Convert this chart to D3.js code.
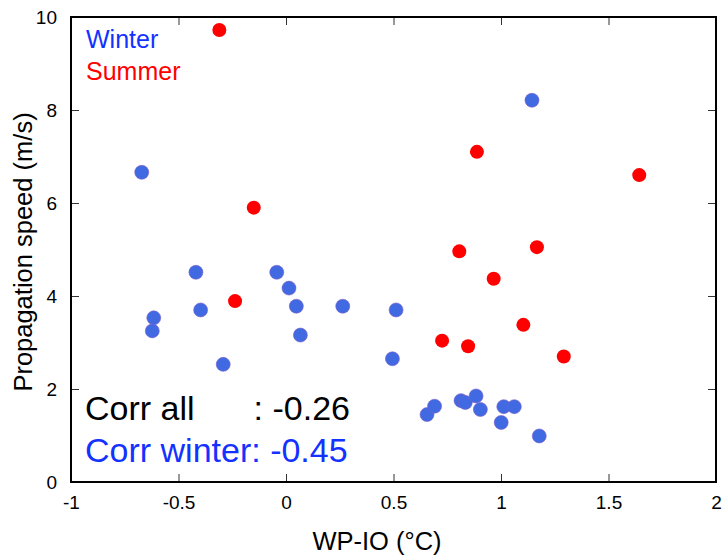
<!DOCTYPE html>
<html>
<head>
<meta charset="utf-8">
<script src="https://cdn.jsdelivr.net/npm/d3@7"></script>
<style>
  body { margin: 0; background: #fff; }
  svg { display: block; font-family: "Liberation Sans", Arial, Helvetica, sans-serif; }
</style>
</head>
<body>
<div id="chart"></div>
<script>
// winter points (WP-IO, speed)
const winterX = [-0.671, 1.144, -0.419, -0.043, 0.014, -0.397, -0.615, -0.622, 0.048, 0.264, 0.067, -0.292,
  0.512, 0.495, 0.656, 0.691, 0.814, 0.834, 0.884, 0.904, 1.013, 1.062, 1.001, 1.178];
const winterY = [6.66, 8.21, 4.51, 4.51, 4.17, 3.70, 3.53, 3.25, 3.78, 3.78, 3.16, 2.53,
  3.70, 2.65, 1.45, 1.63, 1.75, 1.71, 1.85, 1.56, 1.62, 1.62, 1.28, 0.99];

// summer points
const summerX = [-0.31, -0.15, 0.888, 1.643, 0.806, 1.167, 0.966, -0.237, 1.104, 0.726, 0.847, 1.292];
const summerY = [9.72, 5.90, 7.10, 6.60, 4.96, 5.05, 4.37, 3.89, 3.38, 3.04, 2.92, 2.70];

const xTicks = [-1, -0.5, 0, 0.5, 1, 1.5, 2];
const yTicks = [0, 2, 4, 6, 8, 10];
const corrAll = "-0.26";
const corrWinter = "-0.45";

const W = 724, H = 558;
const margin = { top: 17, right: 8, bottom: 76, left: 71 };

const svg = d3.select("#chart").append("svg")
  .attr("width", W)
  .attr("height", H);

const x = d3.scaleLinear().domain([-1, 2]).range([margin.left, W - margin.right]);
const y = d3.scaleLinear().domain([0, 10]).range([H - margin.bottom, margin.top]);

const tickLen = 8;

// axes with inward ticks
svg.append("g")
  .attr("transform", "translate(0," + y(0) + ")")
  .call(d3.axisBottom(x).tickValues(xTicks).tickSizeInner(-tickLen).tickSizeOuter(0).tickPadding(14)
    .tickFormat(d => d.toString()))
  .call(g => g.select(".domain").remove())
  .call(g => g.selectAll("text").style("font-size", "19px").attr("fill", "#000"));

svg.append("g")
  .attr("transform", "translate(" + x(-1) + ",0)")
  .call(d3.axisLeft(y).tickValues(yTicks).tickSizeInner(-tickLen).tickSizeOuter(0).tickPadding(14)
    .tickFormat(d => d.toString()))
  .call(g => g.select(".domain").remove())
  .call(g => g.selectAll("text").style("font-size", "19px").attr("fill", "#000"));

svg.append("g")
  .attr("transform", "translate(0," + y(10) + ")")
  .call(d3.axisTop(x).tickValues(xTicks).tickSizeInner(-tickLen).tickSizeOuter(0).tickFormat(""))
  .call(g => g.select(".domain").remove());

svg.append("g")
  .attr("transform", "translate(" + x(2) + ",0)")
  .call(d3.axisRight(y).tickValues(yTicks).tickSizeInner(-tickLen).tickSizeOuter(0).tickFormat(""))
  .call(g => g.select(".domain").remove());

svg.selectAll(".tick line").attr("stroke", "#333").attr("stroke-width", 1);

// frame
svg.append("rect")
  .attr("x", x(-1))
  .attr("y", y(10))
  .attr("width", x(2) - x(-1))
  .attr("height", y(0) - y(10))
  .attr("fill", "none")
  .attr("stroke", "#000")
  .attr("stroke-width", 2);

// points
const winter = winterX.map((v, i) => ({ x: v, y: winterY[i] }));
const summer = summerX.map((v, i) => ({ x: v, y: summerY[i] }));

svg.selectAll("circle.winter")
  .data(winter)
  .enter()
  .append("circle")
  .attr("class", "winter")
  .attr("cx", d => x(d.x))
  .attr("cy", d => y(d.y))
  .attr("r", 7)
  .attr("fill", "#4169e1")
  .attr("stroke", "#7a5fc9")
  .attr("stroke-width", 0.6);

svg.selectAll("circle.summer")
  .data(summer)
  .enter()
  .append("circle")
  .attr("class", "summer")
  .attr("cx", d => x(d.x))
  .attr("cy", d => y(d.y))
  .attr("r", 7)
  .attr("fill", "#ff0000");

// legend
svg.append("text").attr("x", 86).attr("y", 48).text("Winter")
  .style("font-size", "25px").attr("fill", "#1432ff");
svg.append("text").attr("x", 86).attr("y", 80).text("Summer")
  .style("font-size", "25px").attr("fill", "#ff0000");

// correlation text
svg.append("text").attr("x", 85).attr("y", 420).text("Corr all")
  .style("font-size", "34px").attr("fill", "#000");
svg.append("text").attr("x", 350).attr("y", 420).attr("text-anchor", "end").text(": " + corrAll)
  .style("font-size", "34px").attr("fill", "#000");
svg.append("text").attr("x", 85).attr("y", 462).text("Corr winter: " + corrWinter)
  .style("font-size", "34px").attr("fill", "#1432ff");

// axis titles
svg.append("text")
  .attr("x", 377)
  .attr("y", 550)
  .attr("text-anchor", "middle")
  .style("font-size", "25.5px")
  .text("WP-IO (°C)");

svg.append("text")
  .attr("transform", "translate(31.5," + 252 + ") rotate(-90)")
  .attr("text-anchor", "middle")
  .style("font-size", "25.5px")
  .text("Propagation speed (m/s)");
</script>
</body>
</html>
